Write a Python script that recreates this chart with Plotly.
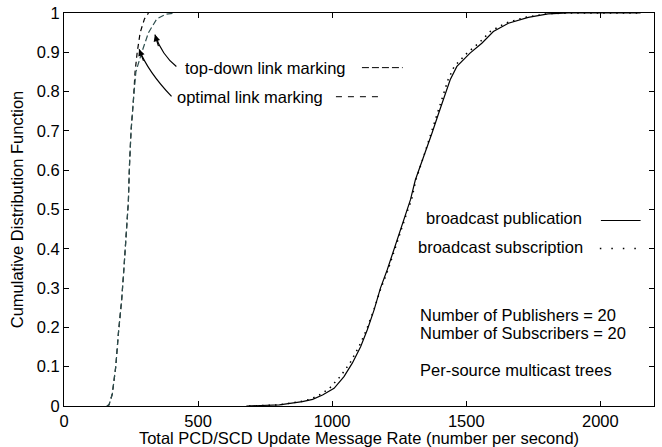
import plotly.graph_objects as go

# ---- data ----
opt_x = [160, 168, 180, 193, 203, 215, 224, 231, 240, 244, 250, 259, 265, 273, 284, 300, 315]
opt_y = [0, 0.003, 0.03, 0.1, 0.186, 0.27, 0.355, 0.44, 0.52, 0.61, 0.70, 0.78, 0.85, 0.9, 0.95, 0.985, 1.0]

td_x = [160, 168, 180, 193, 203, 215, 224, 231, 240, 244, 250, 259, 268, 290, 315, 346, 380, 415]
td_y = [0, 0.003, 0.03, 0.1, 0.186, 0.27, 0.355, 0.44, 0.52, 0.61, 0.70, 0.78, 0.85, 0.9, 0.95, 0.985, 0.997, 1.0]

pub_x = [680, 803, 889, 927, 964, 1007, 1044, 1075, 1106, 1131, 1156, 1180, 1205, 1230, 1255, 1279,
         1292, 1310, 1347, 1372, 1397, 1422, 1440, 1465, 1483, 1514, 1558, 1601, 1657, 1731, 1805, 1880, 2000, 2150]
pub_y = [0, 0.003, 0.011, 0.017, 0.028, 0.045, 0.075, 0.109, 0.151, 0.194, 0.244, 0.300, 0.346, 0.397, 0.448, 0.499,
         0.525, 0.575, 0.643, 0.694, 0.745, 0.796, 0.830, 0.864, 0.877, 0.898, 0.923, 0.953, 0.974, 0.989, 0.998, 1.0, 1.0, 1.0]

sub_x = [690, 800, 880, 918, 952, 990, 1030, 1066, 1100, 1128, 1155, 1182, 1208, 1232, 1258, 1282,
         1296, 1312, 1345, 1368, 1392, 1416, 1432, 1455, 1474, 1503, 1546, 1590, 1645, 1720, 1800, 1880, 2000, 2150]
sub_y = pub_y

x_ticks = [0, 500, 1000, 1500, 2000]
y_ticks = [0, 0.1, 0.2, 0.3, 0.4, 0.5, 0.6, 0.7, 0.8, 0.9, 1]
y_labels = ["0", "0.1", "0.2", "0.3", "0.4", "0.5", "0.6", "0.7", "0.8", "0.9", "1"]

FONT = "Liberation Sans, Arial, Helvetica, sans-serif"
FS = 16.5

fig = go.Figure()
fig.add_trace(go.Scatter(x=opt_x, y=opt_y, mode="lines", name="optimal link marking",
                         line=dict(color="black", width=1.2, dash="5px,4px")))
fig.add_trace(go.Scatter(x=td_x, y=td_y, mode="lines", name="top-down link marking",
                         line=dict(color="#2f4f4f", width=1.2, dash="6px,3px")))
fig.add_trace(go.Scatter(x=pub_x, y=pub_y, mode="lines", name="broadcast publication",
                         line=dict(color="black", width=1.2)))
fig.add_trace(go.Scatter(x=sub_x, y=sub_y, mode="lines", name="broadcast subscription",
                         line=dict(color="black", width=1.5, dash="1.5px,5px")))

ann = []
def txt(x, y, s):
    ann.append(dict(x=x, y=y, xref="x", yref="y", text=s, showarrow=False, xanchor="left",
                    yanchor="middle", font=dict(family=FONT, size=FS, color="black")))

txt(443, 0.86, "top-down link marking")
txt(413, 0.786, "optimal link marking")
txt(1341, 0.479, "broadcast publication")
txt(1311, 0.405, "broadcast subscription")
txt(1319, 0.232, "Number of Publishers = 20")
txt(1319, 0.186, "Number of Subscribers = 20")
txt(1319, 0.092, "Per-source multicast trees")

# arrowheads
ann.append(dict(x=339, y=0.945, xref="x", yref="y", text="", showarrow=True, arrowhead=2,
                arrowsize=1.1, arrowwidth=1.2, arrowcolor="black", ax=4, ay=13))
ann.append(dict(x=280, y=0.908, xref="x", yref="y", text="", showarrow=True, arrowhead=2,
                arrowsize=1.1, arrowwidth=1.2, arrowcolor="black", ax=5, ay=13))

shapes = [
    dict(type="path", xref="x", yref="y", path="M 419,0.864 Q 366,0.892 339,0.945",
         line=dict(color="black", width=1.2)),
    dict(type="path", xref="x", yref="y", path="M 401,0.788 Q 313,0.851 280,0.908",
         line=dict(color="black", width=1.2)),
    # legend samples
    dict(type="line", xref="x", yref="y", x0=1111, x1=1263, y0=0.861, y1=0.861,
         line=dict(color="black", width=1, dash="7px,3px")),
    dict(type="line", xref="x", yref="y", x0=1014, x1=1178, y0=0.787, y1=0.787,
         line=dict(color="black", width=1, dash="6px,6px")),
    dict(type="line", xref="x", yref="y", x0=2002, x1=2150, y0=0.472, y1=0.472,
         line=dict(color="black", width=1)),
    dict(type="line", xref="x", yref="y", x0=1998, x1=2139, y0=0.401, y1=0.401,
         line=dict(color="black", width=1.5, dash="1.5px,10px")),
]

axis_common = dict(showline=True, linecolor="black", linewidth=1, mirror="ticks",
                   ticks="inside", ticklen=5, tickcolor="black", showgrid=False, zeroline=False,
                   automargin=False,
                   tickfont=dict(family=FONT, size=FS, color="black"))

fig.update_layout(
    width=662, height=447,
    margin=dict(l=64, r=8, t=13, b=41),
    paper_bgcolor="white", plot_bgcolor="white",
    showlegend=False,
    annotations=ann, shapes=shapes,
    xaxis=dict(range=[0, 2200], tickvals=x_ticks, ticktext=[str(v) for v in x_ticks],
               title=dict(text="Total PCD/SCD Update Message Rate (number per second)",
                          font=dict(family=FONT, size=FS, color="black"), standoff=0),
               **axis_common),
    yaxis=dict(range=[0, 1], tickvals=y_ticks, ticktext=y_labels,
               title=dict(text="Cumulative Distribution Function",
                          font=dict(family=FONT, size=FS, color="black"), standoff=8),
               **axis_common),
)

# remove the browser's default body margin so the figure fills the window exactly
fig.write_html("out.html", config={"displayModeBar": False},
               post_script="document.body.style.margin='0';")
